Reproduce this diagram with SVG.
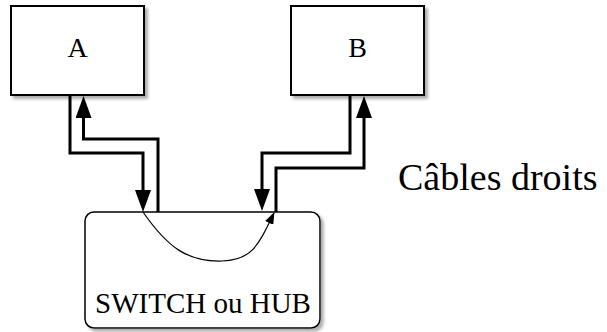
<svg xmlns="http://www.w3.org/2000/svg" width="607" height="332" viewBox="0 0 607 332">
<style>
.box{fill:#fff;stroke:#000;stroke-width:2;filter:url(#sh)}
.lbl{font-family:"Liberation Serif","Times New Roman",serif;fill:#000}
.wire{fill:none;stroke:#000;stroke-width:3;stroke-linejoin:miter}
.thin{fill:none;stroke:#000;stroke-width:1.2}
</style>
<defs>
<filter id="sh" x="-10%" y="-10%" width="130%" height="130%">
<feDropShadow dx="3" dy="3" stdDeviation="1.5" flood-color="#777" flood-opacity="0.6"/>
</filter>
<marker id="big" markerUnits="userSpaceOnUse" markerWidth="22" markerHeight="16" viewBox="0 0 22 16" refX="0" refY="8" orient="auto">
<path d="M0,0 L22,8 L0,16 z" fill="#000"/>
</marker>
<marker id="small" markerUnits="userSpaceOnUse" markerWidth="12" markerHeight="9" viewBox="0 0 12 9" refX="11" refY="4.5" orient="auto">
<path d="M0,0 L12,4.5 L0,9 z" fill="#000"/>
</marker>
</defs>
<rect width="607" height="332" fill="#fff"/>
<g id="nodeA">
<rect class="box" x="11" y="6" width="133" height="89"/>
<text class="lbl" x="77.5" y="57" font-size="28" text-anchor="middle">A</text>
</g>
<g id="nodeB">
<rect class="box" x="291" y="6" width="133" height="89"/>
<text class="lbl" x="357.5" y="57" font-size="28" text-anchor="middle">B</text>
</g>
<g id="nodeSwitch">
<rect class="box" x="85" y="212" width="235" height="116" rx="9" ry="9" style="stroke-width:1.5"/>
<text class="lbl" x="203" y="313" font-size="29" text-anchor="middle">SWITCH ou HUB</text>
</g>
<g id="label">
<text class="lbl" x="398" y="190" font-size="38">Câbles droits</text>
</g>
<g id="connectors">
<path class="wire" d="M70,95 V153 H143 V190" marker-end="url(#big)"/>
<path class="wire" d="M158,212 V139 H83.5 V118" marker-end="url(#big)"/>
<path class="wire" d="M350,95 V153 H262 V189" marker-end="url(#big)"/>
<path class="wire" d="M276,212 V168 H364 V118" marker-end="url(#big)"/>
<path class="thin" d="M143,212 C168,248 188,262 222,261 C252,260 258,246 274,213" marker-end="url(#small)"/>
</g>
</svg>
